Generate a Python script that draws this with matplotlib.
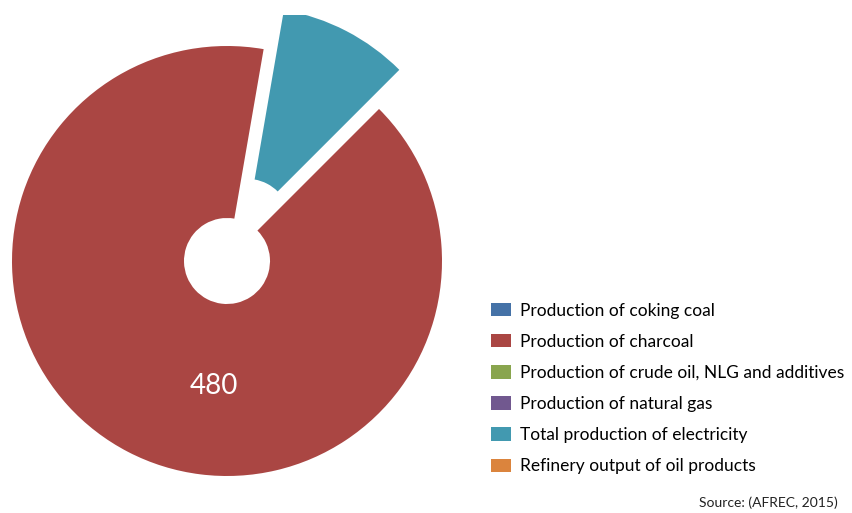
import matplotlib
matplotlib.use('Agg')
import matplotlib.pyplot as plt

# data (AFREC, 2015)
categories = ['Production of coking coal', 'Production of charcoal',
              'Production of crude oil, NLG and additives',
              'Production of natural gas', 'Total production of electricity',
              'Refinery output of oil products']
values = [0, 480, 0, 0, 52, 0]
colors = ['#4572A7', '#AA4643', '#89A54E', '#71588F', '#4299B0', '#DB843D']
explode = [0, 0, 0, 0, 0.205, 0]

plt.rcParams['font.family'] = ['Lato', 'DejaVu Sans']

fig = plt.figure(figsize=(8.52, 5.13), dpi=100)
# axes sized so one data unit = 215 px, top slightly clipped like the original
ax = fig.add_axes([0, 0, 460 / 852, 498 / 513])

wedges, _ = ax.pie(values, colors=colors, explode=explode, startangle=45,
                   counterclock=False, radius=1.0,
                   wedgeprops=dict(width=0.8, linewidth=0))
for w in wedges:
    w.set_clip_on(True)
    w.set_clip_box(ax.bbox)
ax.set_aspect('auto')
ax.set_xlim(-227 / 215, 233 / 215)
ax.set_ylim(-252 / 215, 246 / 215)

ax.text(-0.06, -0.58, str(values[1]), color='white', fontsize=20,
        ha='center', va='center')

fig.legend(wedges, categories, loc='upper left', bbox_to_anchor=(489 / 852, 1 - 301 / 513),
           frameon=False, fontsize=12.5, handlelength=1.15, handleheight=0.8,
           handletextpad=0.55, labelspacing=0.87, borderaxespad=0, borderpad=0.1)

fig.text(838 / 852, 1 - 503 / 513, 'Source: (AFREC, 2015)', ha='right', va='center',
         fontsize=10, color='#222222')

fig.savefig('out.png', dpi=100)
